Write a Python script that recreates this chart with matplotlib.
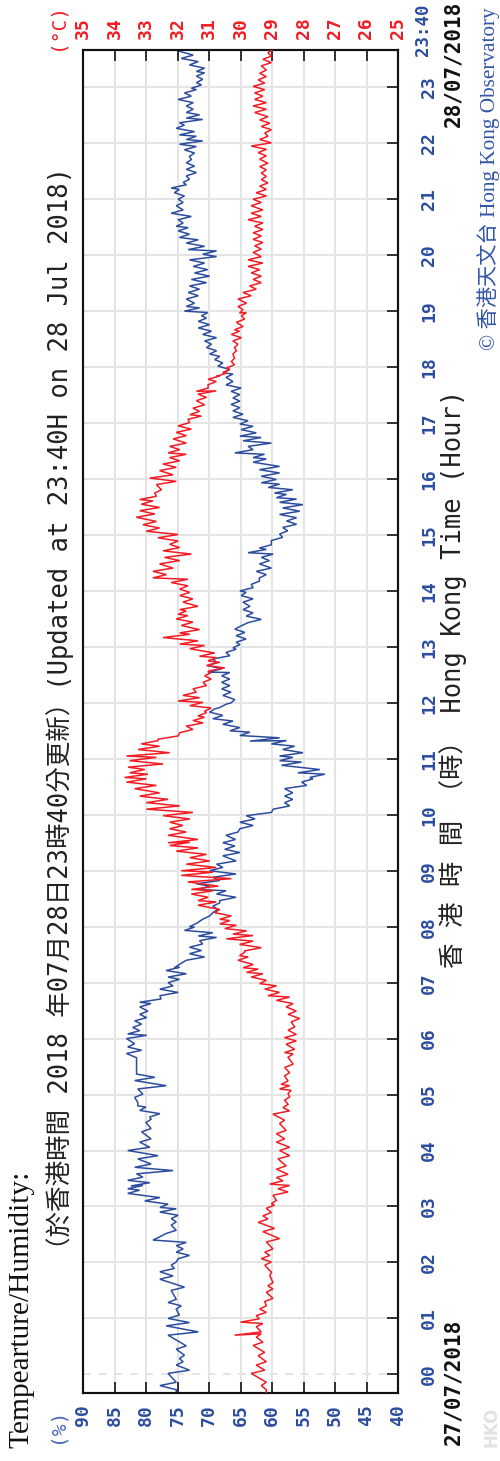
import matplotlib
matplotlib.use('Agg')
import matplotlib.pyplot as plt

# ---------------- data ----------------
# time in minutes from 00:00 on 28/07/2018; each reading has two values (band edges)
hum_time = [-20, -12, 1, 10, 17, 27, 42, 52, 60, 70, 77, 90, 102, 110, 117, 124, 131, 138, 144, 151,
            160, 167, 174, 179, 186, 194, 199, 202, 208, 215, 222, 231, 240, 249, 260, 270, 276, 283, 288, 297,
            306, 315, 322, 329, 336, 344, 351, 360, 365, 372, 379, 386, 394, 399, 406, 413, 420, 426, 433, 436,
            444, 451, 458, 465, 470, 476, 480, 488, 495, 502, 508, 515, 520, 526, 533, 540, 547, 556, 563, 570,
            578, 585, 592, 599, 606, 613, 620, 628, 635, 640, 645, 653, 658, 663, 670, 676, 679, 685, 690, 697,
            703, 710, 715, 720, 728, 735, 742, 749, 753, 760, 767, 774, 779, 785, 792, 799, 806, 813, 820, 828,
            835, 840, 847, 854, 861, 869, 876, 881, 886, 894, 901, 908, 915, 922, 929, 935, 940, 945, 951, 956,
            963, 970, 978, 983, 988, 995, 1001, 1006, 1013, 1019, 1026, 1033, 1040, 1047, 1054, 1061, 1069, 1074, 1081, 1088,
            1094, 1101, 1108, 1115, 1122, 1129, 1135, 1140, 1145, 1153, 1160, 1167, 1174, 1181, 1188, 1195, 1201, 1206, 1213, 1219,
            1226, 1231, 1238, 1245, 1253, 1260, 1267, 1272, 1278, 1285, 1292, 1299, 1306, 1313, 1319, 1324, 1329, 1336, 1342, 1347,
            1353, 1360, 1367, 1374, 1379, 1385, 1392, 1397, 1404, 1411, 1419]
hum_a = [75.2, 77.8, 76.5, 75.2, 74.7, 75.2, 76.5, 76.8, 76.5, 75.2, 76.5, 76.0, 77.8, 77.8, 76.0, 74.9, 75.2, 75.2, 78.9, 76.8,
         76.0, 76.0, 77.8, 77.8, 80.2, 82.9, 82.9, 82.4, 82.9, 81.5, 81.8, 81.3, 82.9, 81.0, 80.7, 80.0, 79.4, 81.0, 81.3, 81.8,
         81.3, 81.8, 81.5, 81.5, 81.5, 83.1, 82.9, 83.1, 82.9, 82.1, 81.8, 81.0, 81.0, 81.0, 77.8, 77.8, 76.5, 76.5, 76.8, 75.5,
         73.6, 73.1, 73.1, 71.5, 71.7, 73.9, 73.1, 71.0, 69.4, 69.4, 68.3, 68.8, 71.7, 72.0, 69.4, 69.9, 68.8, 67.8, 67.5, 67.8,
         67.3, 65.1, 65.1, 64.1, 59.8, 58.0, 58.0, 58.0, 55.3, 54.0, 55.9, 58.5, 58.8, 58.8, 58.3, 60.1, 63.5, 65.1, 66.7, 67.8,
         69.4, 69.9, 68.3, 66.5, 67.8, 68.0, 68.0, 68.0, 70.2, 70.2, 69.4, 67.3, 66.2, 65.7, 65.7, 65.9, 63.8, 64.1, 64.6, 64.6,
         64.9, 65.1, 63.3, 62.0, 62.5, 62.0, 61.7, 63.8, 62.0, 60.1, 58.8, 58.3, 57.7, 58.8, 58.3, 58.8, 59.3, 59.6, 60.6, 61.7,
         61.7, 62.0, 63.0, 63.0, 65.9, 63.8, 64.6, 65.1, 64.9, 65.1, 66.2, 66.2, 66.5, 66.2, 66.5, 67.3, 67.3, 67.8, 68.6, 69.1,
         69.9, 70.4, 70.7, 71.0, 71.7, 71.7, 71.2, 73.9, 73.6, 73.6, 73.3, 73.1, 72.8, 72.3, 72.5, 73.1, 71.0, 73.3, 73.6, 74.7,
         74.9, 75.2, 74.9, 76.0, 75.2, 74.9, 75.5, 76.0, 74.1, 73.6, 73.6, 73.6, 73.1, 73.9, 74.7, 73.6, 74.7, 75.2, 74.7, 73.6,
         73.6, 73.6, 74.9, 73.9, 72.8, 72.0, 72.0, 72.0, 73.1, 74.4, 74.9]
hum_b = [75.2, 75.2, 73.1, 74.1, 73.9, 73.6, 71.7, 73.1, 74.7, 74.4, 75.2, 73.9, 75.7, 75.5, 75.2, 73.1, 74.1, 73.6, 77.8, 75.2,
         75.2, 74.9, 75.2, 76.5, 77.8, 81.0, 80.5, 79.4, 80.5, 75.7, 79.2, 78.1, 79.4, 79.2, 79.2, 79.2, 77.8, 80.0, 81.3, 80.5,
         76.8, 78.6, 81.5, 81.5, 81.5, 80.7, 81.8, 79.9, 81.0, 80.7, 79.9, 79.7, 79.2, 77.6, 74.9, 75.7, 74.7, 73.6, 74.7, 74.7,
         70.7, 71.2, 71.0, 68.8, 69.4, 72.3, 72.0, 69.9, 68.6, 68.3, 65.7, 67.3, 69.9, 68.3, 65.7, 67.8, 65.7, 65.1, 65.9, 65.8,
         65.4, 63.0, 62.7, 60.1, 57.2, 56.7, 56.7, 54.5, 53.5, 51.6, 52.4, 55.3, 56.7, 55.1, 56.4, 57.7, 58.8, 63.5, 65.1, 66.2,
         67.8, 69.1, 67.3, 65.9, 66.5, 66.7, 66.7, 66.7, 68.0, 68.8, 66.7, 65.7, 65.1, 64.1, 64.3, 64.9, 61.7, 63.0, 63.5, 63.0,
         64.1, 63.0, 62.0, 60.9, 60.1, 60.4, 59.8, 60.9, 60.1, 58.3, 57.5, 56.1, 56.1, 55.6, 55.1, 56.1, 57.7, 56.7, 58.8, 59.3,
         58.8, 58.8, 60.9, 61.2, 63.0, 60.1, 61.7, 62.5, 63.0, 63.8, 64.6, 65.1, 65.1, 65.1, 64.9, 66.2, 66.2, 66.7, 67.8, 68.3,
         68.8, 69.6, 68.8, 69.6, 69.9, 70.4, 70.2, 71.5, 72.3, 71.7, 71.5, 70.4, 69.9, 70.2, 70.7, 68.8, 68.8, 70.7, 71.7, 73.1,
         73.3, 74.1, 72.8, 74.1, 74.1, 73.9, 74.7, 73.6, 73.1, 72.0, 72.3, 72.8, 72.3, 72.0, 71.0, 72.0, 72.3, 73.9, 71.0, 71.5,
         72.5, 72.5, 72.8, 72.0, 71.2, 71.0, 70.7, 70.7, 71.7, 72.5, 73.9]

tmp_time = [-20, -12, 1, 10, 20, 31, 40, 42, 51, 56, 63, 70, 78, 88, 95, 106, 117, 124, 131, 142,
            153, 163, 170, 178, 183, 192, 199, 204, 211, 220, 231, 240, 249, 258, 269, 279, 286, 294, 301, 306,
            311, 320, 329, 340, 345, 354, 361, 369, 378, 386, 394, 401, 406, 413, 419, 426, 431, 436, 444, 449,
            454, 461, 467, 472, 478, 483, 488, 495, 503, 508, 515, 520, 528, 535, 540, 547, 554, 561, 567, 570,
            578, 585, 592, 599, 606, 613, 620, 628, 635, 640, 645, 651, 658, 663, 670, 676, 681, 688, 695, 701,
            706, 711, 717, 722, 728, 735, 742, 749, 754, 760, 765, 770, 778, 783, 790, 795, 803, 810, 815, 820,
            828, 835, 842, 849, 854, 861, 869, 876, 883, 890, 897, 904, 911, 919, 926, 933, 938, 945, 954, 961,
            969, 976, 983, 988, 995, 1003, 1010, 1017, 1024, 1029, 1036, 1044, 1051, 1054, 1061, 1067, 1070, 1074, 1079, 1086,
            1094, 1101, 1108, 1115, 1120, 1128, 1135, 1138, 1145, 1153, 1160, 1167, 1174, 1181, 1188, 1195, 1203, 1210, 1217, 1224,
            1231, 1238, 1245, 1253, 1260, 1267, 1274, 1281, 1288, 1295, 1303, 1310, 1317, 1324, 1331, 1338, 1345, 1353, 1360, 1367,
            1374, 1381, 1388, 1395, 1403, 1410, 1417, 1420]
tmp_a = [29.18, 29.34, 29.66, 29.50, 29.44, 29.60, 29.50, 30.19, 29.50, 30.00, 29.50, 29.39, 29.23, 29.18, 29.13, 29.07, 29.23, 29.34, 29.23, 29.18,
         29.29, 29.44, 29.29, 29.18, 29.02, 28.97, 28.81, 29.07, 28.86, 28.86, 28.81, 28.76, 28.86, 28.86, 28.76, 28.97, 28.65, 28.60, 28.49, 28.76,
         28.71, 28.60, 28.60, 28.49, 28.60, 28.55, 28.60, 28.49, 28.39, 28.49, 28.55, 28.86, 29.13, 29.23, 29.39, 29.66, 29.81, 29.92, 30.08, 30.03,
         29.87, 30.03, 30.45, 30.24, 30.50, 30.66, 30.66, 30.82, 31.35, 31.35, 31.56, 31.56, 31.67, 31.88, 31.88, 31.72, 31.61, 32.04, 32.25, 32.30,
         32.30, 32.25, 32.25, 32.46, 32.99, 32.99, 33.20, 33.36, 33.62, 33.68, 33.52, 33.57, 33.52, 33.62, 33.25, 33.15, 32.62, 31.93, 31.72, 31.51,
         31.35, 31.14, 31.61, 31.98, 31.83, 31.51, 31.19, 31.14, 31.03, 31.08, 31.03, 31.30, 31.61, 31.93, 32.46, 31.93, 31.88, 32.04, 31.98, 31.93,
         31.83, 31.93, 31.93, 32.20, 32.78, 32.78, 32.57, 32.41, 32.46, 32.25, 32.62, 32.99, 33.10, 33.31, 33.20, 33.15, 33.20, 32.72, 32.67, 32.88,
         32.57, 32.46, 32.25, 32.30, 32.25, 32.14, 32.04, 31.98, 31.67, 31.61, 31.51, 31.40, 31.35, 31.40, 31.03, 31.03, 30.77, 30.56, 30.45, 30.29,
         30.24, 30.19, 30.24, 30.29, 30.19, 30.13, 29.97, 30.03, 30.08, 30.08, 29.92, 29.71, 29.60, 29.66, 29.76, 29.76, 29.60, 29.55, 29.60, 29.60,
         29.55, 29.76, 29.66, 29.66, 29.60, 29.50, 29.39, 29.34, 29.34, 29.39, 29.39, 29.44, 29.66, 29.39, 29.23, 29.34, 29.39, 29.55, 29.60, 29.55,
         29.55, 29.60, 29.44, 29.39, 29.34, 29.29, 29.13, 29.02]
tmp_b = [29.18, 29.18, 29.23, 29.18, 29.23, 29.29, 29.34, 29.34, 29.29, 29.40, 29.18, 29.18, 28.97, 28.97, 28.97, 29.02, 29.02, 29.07, 28.97, 28.76,
         28.92, 29.13, 29.02, 28.92, 28.86, 28.49, 28.44, 28.65, 28.49, 28.55, 28.44, 28.44, 28.60, 28.55, 28.60, 28.44, 28.49, 28.44, 28.39, 28.44,
         28.49, 28.44, 28.33, 28.33, 28.28, 28.23, 28.23, 28.28, 28.12, 28.23, 28.33, 28.44, 28.76, 28.86, 29.18, 29.29, 29.44, 29.60, 29.76, 29.87,
         29.34, 29.60, 29.60, 29.81, 30.13, 30.34, 30.29, 30.66, 30.77, 31.03, 30.87, 30.71, 30.29, 30.87, 30.77, 30.98, 31.08, 31.35, 31.61, 31.35,
         31.72, 31.83, 31.61, 31.51, 31.93, 32.30, 32.57, 32.67, 32.99, 32.94, 33.04, 32.46, 32.67, 32.25, 32.57, 32.62, 31.98, 31.51, 31.19, 31.14,
         31.08, 30.93, 31.19, 31.30, 31.40, 31.08, 30.93, 30.93, 30.50, 30.66, 30.77, 30.82, 31.14, 31.35, 31.61, 31.30, 31.51, 31.67, 31.72, 31.35,
         31.51, 31.61, 31.67, 31.67, 32.35, 32.14, 31.93, 31.56, 31.93, 31.98, 31.98, 32.57, 32.67, 32.72, 32.57, 32.78, 32.67, 32.51, 32.04, 32.14,
         32.04, 31.93, 31.72, 31.93, 31.72, 31.72, 31.56, 31.61, 31.24, 31.30, 31.14, 31.08, 30.77, 31.03, 30.77, 30.66, 30.45, 30.34, 30.19, 30.19,
         30.13, 30.08, 29.97, 30.03, 29.92, 29.87, 29.81, 29.92, 29.81, 29.66, 29.50, 29.34, 29.34, 29.39, 29.29, 29.34, 29.34, 29.29, 29.34, 29.29,
         29.29, 29.34, 29.29, 29.34, 29.18, 29.18, 29.13, 29.18, 29.18, 29.13, 29.18, 29.18, 29.02, 29.13, 29.02, 29.07, 29.13, 29.18, 29.18, 29.29,
         29.23, 29.23, 29.18, 29.18, 29.02, 29.02, 28.97, 29.02]

hum_ticks = [90, 85, 80, 75, 70, 65, 60, 55, 50, 45, 40]
tmp_ticks = [35, 34, 33, 32, 31, 30, 29, 28, 27, 26, 25]
hour_ticks = list(range(0, 1440, 60))
hour_labels = ['%02d' % h for h in range(24)]
end_label = '23:40'

BLUE = '#2c4d9e'
RED = '#f21c24'
GRID = '#e4e4e4'
MONO = ['DejaVu Sans Mono', 'Noto Sans CJK TC']


def zig(ts, a, b):
    xs, ys = [], []
    for t, va, vb in zip(ts, a, b):
        ys += [t, t + 3.5]
        xs += [va, vb]
    return xs, ys


W, H = 500, 1461
fig = plt.figure(figsize=(W / 100, H / 100), dpi=100)
ax = fig.add_axes([83 / W, 1 - 1393 / H, 315 / W, 1343 / H])
ax.set_xlim(90, 40)
ax.set_ylim(-20, 1420)

hx, hy = zig(hum_time, hum_a, hum_b)
ax.plot(hx, hy, color=BLUE, lw=1.1, zorder=3, solid_joinstyle='miter')

ax2 = ax.twiny()
ax2.set_xlim(35, 25)
ax2.set_ylim(-20, 1420)
tx, ty = zig(tmp_time, tmp_a, tmp_b)
ax2.plot(tx, ty, color=RED, lw=1.1, zorder=3, solid_joinstyle='miter')

# humidity ticks (bottom)
ax.set_xticks(hum_ticks)
ax.set_xticklabels([str(v) for v in hum_ticks])
ax.tick_params(axis='x', direction='in', length=8, width=1.3, color='#222222',
               labelrotation=90, labelsize=13, labelcolor=BLUE, pad=8, top=False)
# hour ticks (right)
ax.yaxis.tick_right()
ax.set_yticks(hour_ticks)
ax.set_yticklabels(hour_labels)
ax.tick_params(axis='y', direction='in', length=8, width=1.3, color='#222222',
               labelrotation=90, labelsize=13, labelcolor=BLUE, pad=16, left=False)
for lab in ax.get_xticklabels() + ax.get_yticklabels():
    lab.set_fontweight('bold')
    lab.set_family(MONO)
for lab in ax.get_yticklabels():
    lab.set_va('center')

# temperature ticks (top)
ax2.set_xticks(tmp_ticks)
ax2.set_xticklabels([str(v) for v in tmp_ticks])
ax2.tick_params(axis='x', direction='in', length=8, width=1.3, color='#222222',
                labelrotation=90, labelsize=13, labelcolor=RED, pad=8)
for lab in ax2.get_xticklabels():
    lab.set_fontweight('bold')
    lab.set_family(MONO)

ax.grid(True, color=GRID, lw=1.4, zorder=0)
ax.yaxis.get_gridlines()[0].set_linestyle((0, (4, 4)))
ax.set_axisbelow(True)
for s in list(ax.spines.values()) + list(ax2.spines.values()):
    s.set_linewidth(1.5)
    s.set_color('#111111')

# end time label (starts at the 23:40 tick, reading upward)
ax.text(1.0 + 25 / 315, 1420 - 6 * 60 / 56, end_label, transform=ax.get_yaxis_transform(),
        rotation=90, rotation_mode='anchor', ha='left', va='center', color=BLUE,
        fontsize=12.5, fontweight='bold', family=MONO)


def ftext(x, y, s, **kw):
    fig.text(x / W, 1 - y / H, s, rotation=90, rotation_mode='anchor',
             ha='left', va='center', **kw)


ftext(21, 1448, 'Tempearture/Humidity:', family=['Liberation Serif'], fontsize=21.2, color='#111111')
ftext(60, 1262, '（於香港時間 2018 年07月28日23時40分更新）(Updated at 23:40H on 28 Jul 2018)',
      family=MONO, fontsize=18.4, color='#222222')
ftext(57, 1443, '(%)', family=MONO, fontsize=14, color='#4a66b8')
ftext(57, 50, '(°C)', family=MONO, fontsize=14, color=RED)
ftext(453, 968, '香 港 時 間 （時） Hong Kong Time (Hour)', family=MONO, fontsize=18.4, color='#222222')
ftext(453, 1445, '27/07/2018', family=MONO, fontsize=15, fontweight='bold', color='#111111')
ftext(453, 127, '28/07/2018', family=MONO, fontsize=15, fontweight='bold', color='#111111')
ftext(489, 350, '© 香港天文台 Hong Kong Observatory', family=['Liberation Serif', 'Noto Sans CJK TC'],
      fontsize=15.3, color='#3355aa')
ftext(492, 1447, 'HKO', family=['DejaVu Sans'], fontsize=12, fontweight='bold', color='#e2e2e2')

fig.savefig('out.png', dpi=100)
